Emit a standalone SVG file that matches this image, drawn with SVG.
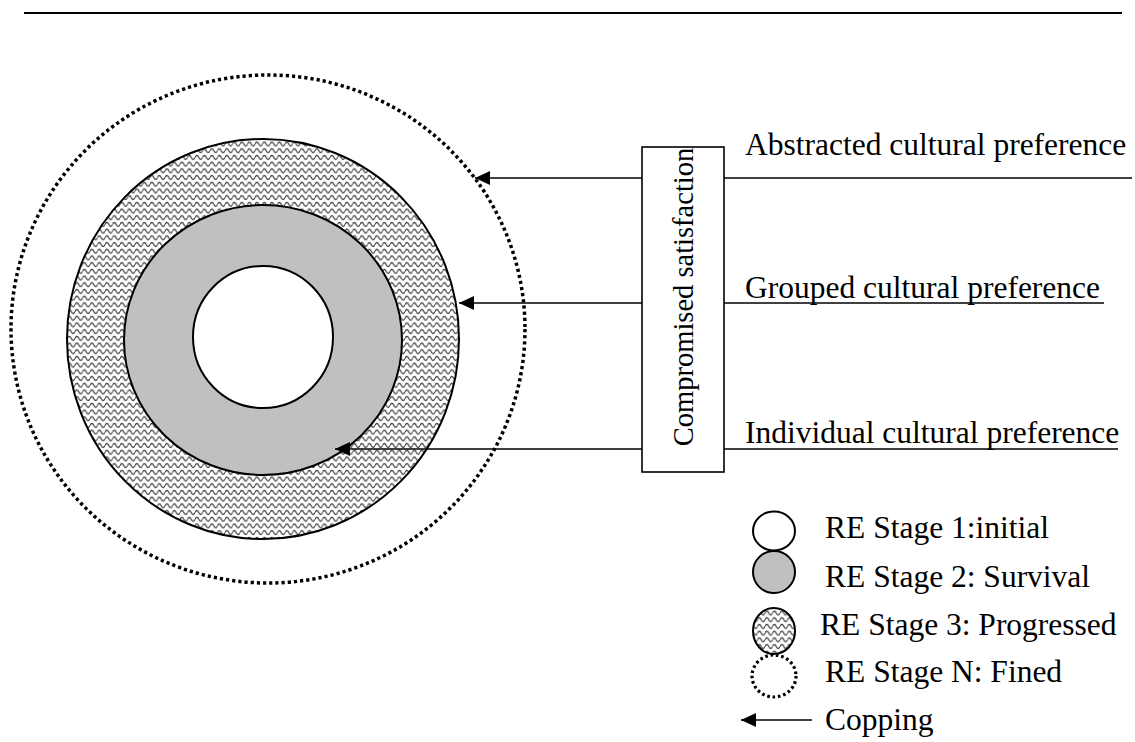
<svg xmlns="http://www.w3.org/2000/svg" width="1135" height="742" viewBox="0 0 1135 742">
  <style>
    .lbl { font-family: "Liberation Serif", "Times New Roman", serif; font-size: 31.5px; fill: #000; }
    .ring { stroke: #000; stroke-width: 2; }
    .dots { fill: none; stroke: #000; stroke-width: 3.5; stroke-dasharray: 3.2 3; }
    .line { stroke: #000; stroke-width: 1.6; fill: none; }
    .arrow { stroke: #000; stroke-width: 1.6; fill: none; marker-end: url(#head); }
  </style>
  <defs>
    <pattern id="wave" patternUnits="userSpaceOnUse" width="7.5" height="6.7">
      <rect width="7.5" height="6.7" fill="#fff"/>
      <path d="M0,3.4 Q1.875,-0.6 3.75,3.4 T7.5,3.4" fill="none" stroke="#3a3a3a" stroke-width="1.2"/>
    </pattern>
    <marker id="head" markerUnits="userSpaceOnUse" markerWidth="16" markerHeight="14" refX="15" refY="7" orient="auto">
      <path d="M0,0 L15,7 L0,14 Z" fill="#000"/>
    </marker>
  </defs>

  <rect width="1135" height="742" fill="#fff"/>

  <!-- header rule -->
  <line x1="24" y1="13" x2="1122" y2="13" stroke="#000" stroke-width="2.2"/>

  <!-- concentric stage rings -->
  <g id="stage-n">
    <ellipse class="dots" cx="268" cy="329" rx="257" ry="254"/>
  </g>
  <g id="stage-3">
    <ellipse class="ring" cx="263" cy="339" rx="196" ry="200" fill="url(#wave)"/>
  </g>
  <g id="stage-2">
    <ellipse class="ring" cx="263" cy="340" rx="139" ry="135" fill="#c0c0c0"/>
  </g>
  <g id="stage-1">
    <ellipse class="ring" cx="263" cy="337" rx="70" ry="71" fill="#fff"/>
  </g>

  <!-- compromised satisfaction box -->
  <g id="compromise">
    <rect x="642" y="147" width="82" height="325" fill="#fff" stroke="#000" stroke-width="1.6"/>
    <text class="lbl" style="font-size:28.5px" text-anchor="middle" transform="translate(693,297) rotate(-90)">Compromised satisfaction</text>
  </g>

  <!-- preference labels -->
  <g id="pref-abstracted">
    <text class="lbl" x="745" y="155">Abstracted cultural preference</text>
  </g>
  <g id="pref-grouped">
    <text class="lbl" x="745" y="298">Grouped cultural preference</text>
  </g>
  <g id="pref-individual">
    <text class="lbl" x="745" y="443">Individual cultural preference</text>
  </g>

  <!-- connectors -->
  <g id="connectors">
    <line class="line" x1="724" y1="178" x2="1132" y2="178"/>
    <line class="line" x1="724" y1="303" x2="1104" y2="303"/>
    <line class="line" x1="724" y1="449" x2="1118" y2="449"/>
    <line class="arrow" x1="642" y1="178" x2="475" y2="178"/>
    <line class="arrow" x1="642" y1="303" x2="459" y2="303"/>
    <line class="arrow" x1="642" y1="449" x2="335" y2="449"/>
  </g>

  <!-- legend -->
  <g id="legend">
    <ellipse class="ring" cx="774" cy="531" rx="21" ry="19.5" fill="#fff"/>
    <text class="lbl" x="825" y="538">RE Stage 1:initial</text>
    <ellipse class="ring" cx="774" cy="572" rx="21" ry="21" fill="#c0c0c0"/>
    <text class="lbl" x="825" y="587">RE Stage 2: Survival</text>
    <ellipse class="ring" cx="774" cy="631" rx="21" ry="23" fill="url(#wave)"/>
    <text class="lbl" x="820" y="635">RE Stage 3: Progressed</text>
    <ellipse cx="774" cy="676" rx="22" ry="21" fill="none" stroke="#000" stroke-width="3.2" stroke-dasharray="2.6 2.8"/>
    <text class="lbl" x="825" y="682">RE Stage N: Fined</text>
    <line class="arrow" x1="812" y1="720" x2="741" y2="720"/>
    <text class="lbl" x="825" y="730">Copping</text>
  </g>
</svg>
